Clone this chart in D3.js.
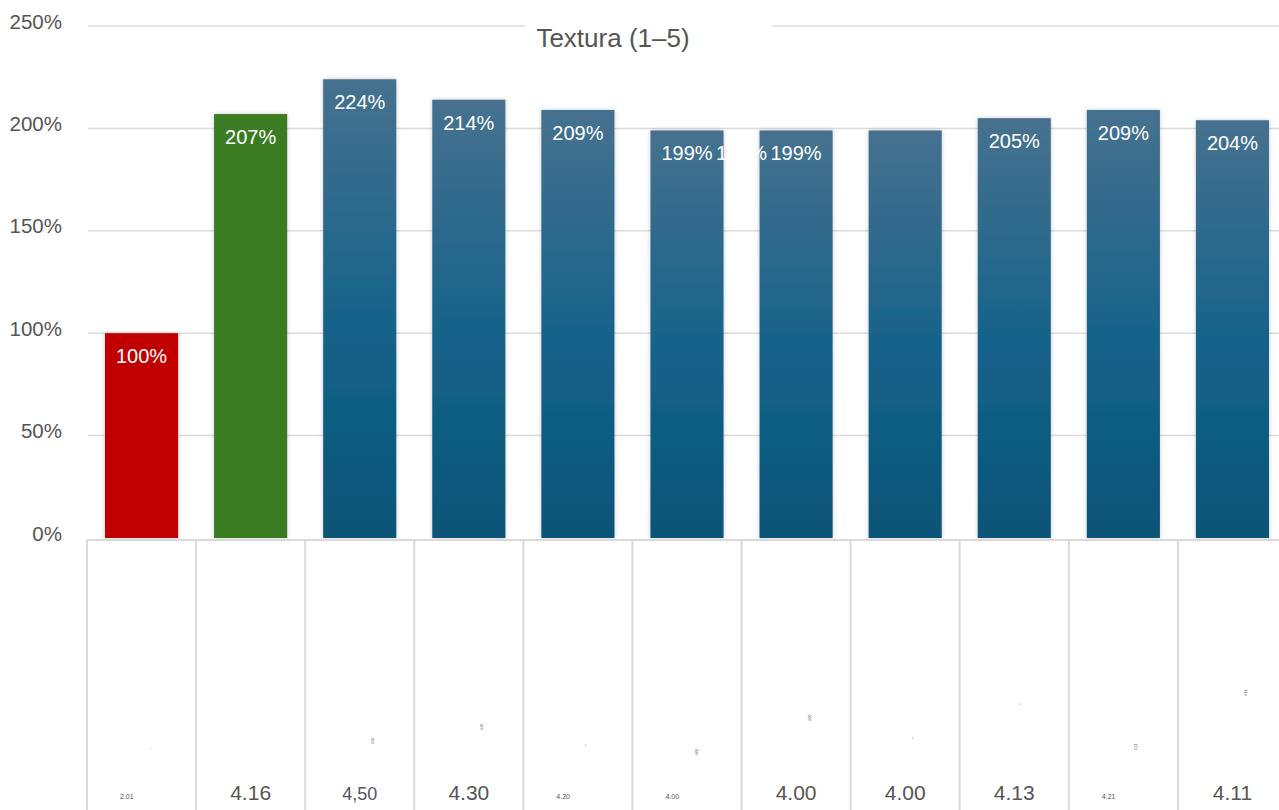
<!DOCTYPE html>
<html>
<head>
<meta charset="utf-8">
<script src="https://cdn.jsdelivr.net/npm/d3@7"></script>
<style>
  html, body { margin: 0; padding: 0; background: #fff; }
  svg { display: block; font-family: "Liberation Sans", Arial, Helvetica, sans-serif; }
</style>
</head>
<body>
<svg id="chart" width="1279" height="810"></svg>
<script>
// Relative texture index per product (percent of the reference product)
const products = ["P1", "P2", "P3", "P4", "P5", "P6", "P7", "P8", "P9", "P10", "P11"];
const textureIndex = [100, 207, 224, 214, 209, 199, 199, 199, 205, 209, 204];
// Mean texture score (1–5 scale) shown under each bar
const scoreLabels = ["2.01", "4.16", "4,50", "4.30", "4.20", "4.00", "4.00", "4.00", "4.13", "4.21", "4.11"];
const yTicks = [0, 50, 100, 150, 200, 250];
const chartTitle = "Textura (1–5)";

// Presentation settings
const barFill = ["red", "green", "blue", "blue", "blue", "blue", "blue", "blue", "blue", "blue", "blue"];
const scoreStyle = ["tiny", "large", "medium", "large", "tiny", "tiny", "large", "large", "large", "tiny", "large"];
const labelShiftSteps = [0, 0, 0, 0, 0, 0, 0, -1.5, 0, 0, 0];
const noteLift = [52, 0, 59, 73, 55, 48, 82, 62, 96, 53, 107];
const noteShift = [9, 0, 14, 14, 8, 11, 15, 8, 7, 14, 15];
const noteLength = ["dot", "none", "text", "text", "dot", "text", "text", "dot", "dot", "text", "text"];

const W = 1279, H = 810;
const svg = d3.select("#chart");
const defs = svg.append("defs");

const blueGrad = defs.append("linearGradient")
  .attr("id", "blueGrad").attr("x1", 0).attr("y1", 0).attr("x2", 0).attr("y2", 1);
blueGrad.append("stop").attr("offset", "0%").attr("stop-color", "#46718f");
blueGrad.append("stop").attr("offset", "55%").attr("stop-color", "#15628a");
blueGrad.append("stop").attr("offset", "100%").attr("stop-color", "#095477");

const shadow = defs.append("filter").attr("id", "barShadow")
  .attr("x", "-20%").attr("y", "-20%").attr("width", "140%").attr("height", "140%");
shadow.append("feDropShadow").attr("dx", 0).attr("dy", 0).attr("stdDeviation", 2)
  .attr("flood-color", "#000").attr("flood-opacity", 0.22);

const fills = { red: "#c00000", green: "#3b7b22", blue: "url(#blueGrad)" };

const x = d3.scaleBand().domain(products).range([87, 1287])
  .paddingInner(0.33).paddingOuter(0.165);
const cell = d3.scaleBand().domain(products).range([87, 1287]).padding(0);
const y = d3.scaleLinear().domain([0, 250]).range([538, 26]);

// Gridlines
svg.append("g").selectAll("line")
  .data(yTicks.filter(t => t > 0))
  .join("line")
  .attr("x1", 88).attr("x2", W)
  .attr("y1", d => y(d)).attr("y2", d => y(d))
  .attr("stroke", "#dcdcdc").attr("stroke-width", 1.5);

// Y axis labels
const yAxis = d3.axisLeft(y).tickValues(yTicks).tickFormat(d => d + "%").tickSize(0).tickPadding(0);
const yg = svg.append("g").attr("transform", "translate(62,0)").call(yAxis);
yg.select(".domain").remove();
yg.selectAll("text")
  .attr("font-size", 20.5).attr("fill", "#555")
  .attr("font-family", "'Liberation Sans', Arial, sans-serif")
  .attr("dy", "0.1em");

// Title with a white backing that breaks the top gridline
svg.append("rect").attr("x", 525).attr("y", 12).attr("width", 247).attr("height", 34).attr("fill", "#fff");
svg.append("text").attr("x", 613).attr("y", 47)
  .attr("text-anchor", "middle").attr("font-size", 26).attr("fill", "#555")
  .text(chartTitle);

// Bars
svg.append("g").selectAll("rect")
  .data(products)
  .join("rect")
  .attr("x", d => x(d))
  .attr("y", (d, i) => y(textureIndex[i]))
  .attr("width", x.bandwidth())
  .attr("height", (d, i) => y(0) - y(textureIndex[i]))
  .attr("fill", (d, i) => fills[barFill[i]])
  .attr("filter", "url(#barShadow)");

// Value labels inside bars
svg.append("g").selectAll("text")
  .data(products)
  .join("text")
  .attr("x", (d, i) => x(d) + x.bandwidth() / 2 + labelShiftSteps[i] * x.step())
  .attr("y", (d, i) => y(textureIndex[i]) + 30)
  .attr("text-anchor", "middle")
  .attr("font-size", 20)
  .attr("fill", "#fff")
  .text((d, i) => textureIndex[i] + "%");

// Score table below the bars
const table = svg.append("g");
table.append("line")
  .attr("x1", 87).attr("x2", W).attr("y1", 540).attr("y2", 540)
  .attr("stroke", "#d9d9d9").attr("stroke-width", 2);
table.selectAll("line.sep")
  .data(products)
  .join("line").attr("class", "sep")
  .attr("x1", d => cell(d)).attr("x2", d => cell(d))
  .attr("y1", 540).attr("y2", H)
  .attr("stroke", "#d9d9d9").attr("stroke-width", 2);

const sizes = { tiny: 7, medium: 18, large: 21 };
table.selectAll("text.score")
  .data(products)
  .join("text").attr("class", "score")
  .attr("x", (d, i) => scoreStyle[i] === "tiny" ? cell(d) + 33 : cell(d) + cell.bandwidth() / 2)
  .attr("y", (d, i) => scoreStyle[i] === "tiny" ? 799 : 800)
  .attr("text-anchor", (d, i) => scoreStyle[i] === "tiny" ? "start" : "middle")
  .attr("font-size", (d, i) => sizes[scoreStyle[i]])
  .attr("fill", "#555")
  .text((d, i) => scoreLabels[i]);

// Small rotated score notes inside each cell
table.selectAll("text.note")
  .data(products.filter((d, i) => noteLength[i] !== "none"))
  .join("text").attr("class", "note")
  .each(function (d) {
    const i = products.indexOf(d);
    const cx = cell(d) + cell.bandwidth() / 2 + noteShift[i];
    const cy = 800 - noteLift[i];
    d3.select(this)
      .attr("transform", `translate(${cx},${cy}) rotate(-90)`)
      .attr("text-anchor", "middle")
      .attr("font-size", noteLength[i] === "dot" ? 1 : 3.4)
      .attr("fill", "#555")
      .text(scoreLabels[i]);
  });
</script>
</body>
</html>
